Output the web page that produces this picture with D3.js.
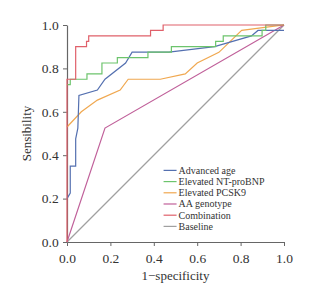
<!DOCTYPE html>
<html>
<head>
<meta charset="utf-8">
<script src="https://cdn.jsdelivr.net/npm/d3@7"></script>
<style>
  body { margin: 0; background: #fff; }
  svg text { font-family: "Liberation Serif", "DejaVu Serif", serif; fill: #333; }
</style>
</head>
<body>
<div id="roc-chart"></div>
<script>
// ROC curves
const seriesNames = ["Advanced age", "Elevated NT-proBNP", "Elevated PCSK9", "AA genotype", "Combination", "Baseline"];
const seriesColors = ["#5470b0", "#6cc46c", "#f0a850", "#c0609a", "#e0606a", "#a0a0a0"];

const ageFpr = [0, 0.015, 0.015, 0.04, 0.04, 0.05, 0.055, 0.14, 0.175, 0.27, 0.30, 0.47, 0.68, 0.85, 0.88, 1.0];
const ageTpr = [0.20, 0.225, 0.35, 0.35, 0.475, 0.525, 0.675, 0.70, 0.75, 0.825, 0.875, 0.875, 0.90, 0.95, 0.975, 0.975];

const bnpFpr = [0, 0.015, 0.015, 0.092, 0.092, 0.161, 0.161, 0.232, 0.232, 0.373, 0.373, 0.481, 0.481, 0.685, 0.685, 0.72, 0.72, 0.899, 0.899, 0.916, 0.916, 1.0];
const bnpTpr = [0.725, 0.725, 0.75, 0.75, 0.775, 0.775, 0.825, 0.825, 0.85, 0.85, 0.875, 0.875, 0.90, 0.90, 0.925, 0.925, 0.95, 0.95, 0.975, 0.975, 1.0, 1.0];

const pcskFpr = [0, 0.066, 0.14, 0.245, 0.282, 0.43, 0.545, 0.60, 0.70, 0.805, 0.92, 1.0];
const pcskTpr = [0.53, 0.60, 0.654, 0.70, 0.75, 0.75, 0.775, 0.825, 0.874, 0.975, 0.99, 1.0];

const aaFpr = [0, 0.175, 1.0];
const aaTpr = [0, 0.525, 1.0];

const combFpr = [0, 0, 0.04, 0.04, 0.09, 0.09, 0.10, 0.10, 0.385, 0.385, 0.443, 0.443, 1.0];
const combTpr = [0, 0.75, 0.75, 0.90, 0.90, 0.925, 0.925, 0.95, 0.95, 0.975, 0.975, 1.0, 1.0];

const baseFpr = [0, 1];
const baseTpr = [0, 1];

const tickValues = [0, 0.2, 0.4, 0.6, 0.8, 1.0];

function createRocChart() {
    const fullWidth = 329, fullHeight = 287;
    const margin = {top: 25, right: 45, bottom: 45, left: 67};
    const width = fullWidth - margin.left - margin.right;
    const height = fullHeight - margin.top - margin.bottom;

    const svg = d3.select("#roc-chart")
    .append("svg")
    .attr("width", fullWidth)
    .attr("height", fullHeight)
    .append("g")
    .attr("transform", `translate(${margin.left},${margin.top})`);

    const xScale = d3.scaleLinear().domain([0, 1]).range([0, width]);
    const yScale = d3.scaleLinear().domain([0, 1]).range([height, 0]);

    // Axes
    const xAxis = svg.append("g")
    .attr("transform", `translate(0,${height})`)
    .call(d3.axisBottom(xScale).tickValues(tickValues).tickFormat(d3.format(".1f")).tickSize(4).tickSizeOuter(0));

    const yAxis = svg.append("g")
    .call(d3.axisLeft(yScale).tickValues(tickValues).tickFormat(d3.format(".1f")).tickSize(4).tickSizeOuter(0));

    [xAxis, yAxis].forEach(ax => {
    ax.select(".domain").attr("stroke", "#666").attr("stroke-width", 1.2);
    ax.selectAll(".tick line").attr("stroke", "#666");
    ax.selectAll("text").style("font-size", "13.5px").attr("fill", "#333");
    });
    xAxis.selectAll("text").attr("dy", "1.0em");
    yAxis.selectAll("text").attr("dx", "-0.1em");

    // Axis titles
    svg.append("text")
    .attr("text-anchor", "middle")
    .attr("x", width / 2)
    .attr("y", height + 38)
    .style("font-size", "13px")
    .text("1\u2212specificity");

    svg.append("text")
    .attr("text-anchor", "middle")
    .attr("transform", `translate(-36,${height / 2}) rotate(-90)`)
    .style("font-size", "13px")
    .text("Sensibility");

    // Curves
    const curves = [
    [ageFpr, ageTpr], [bnpFpr, bnpTpr], [pcskFpr, pcskTpr],
    [aaFpr, aaTpr], [combFpr, combTpr], [baseFpr, baseTpr]
    ];

    const line = d3.line()
    .x(d => xScale(d[0]))
    .y(d => yScale(d[1]));

    const drawOrder = [5, 3, 2, 0, 1, 4];
    drawOrder.forEach(i => {
    const pts = curves[i][0].map((x, k) => [x, curves[i][1][k]]);
    svg.append("path")
    .datum(pts)
    .attr("fill", "none")
    .attr("stroke", seriesColors[i])
    .attr("stroke-width", 1.2)
    .attr("d", line);
    });

    // Legend
    const legend = svg.append("g")
    .attr("transform", `translate(${xScale(0.445)}, ${yScale(0.33)})`);

    seriesNames.forEach((name, i) => {
    const row = legend.append("g")
    .attr("transform", `translate(0, ${i * 11.2})`);

    row.append("line")
    .attr("x1", 0).attr("x2", 13)
    .attr("y1", 0).attr("y2", 0)
    .attr("stroke", seriesColors[i])
    .attr("stroke-width", 1.2);

    row.append("text")
    .attr("x", 15)
    .attr("y", 3.5)
    .style("font-size", "10px")
    .text(name);
    });
}

createRocChart();
</script>
</body>
</html>
